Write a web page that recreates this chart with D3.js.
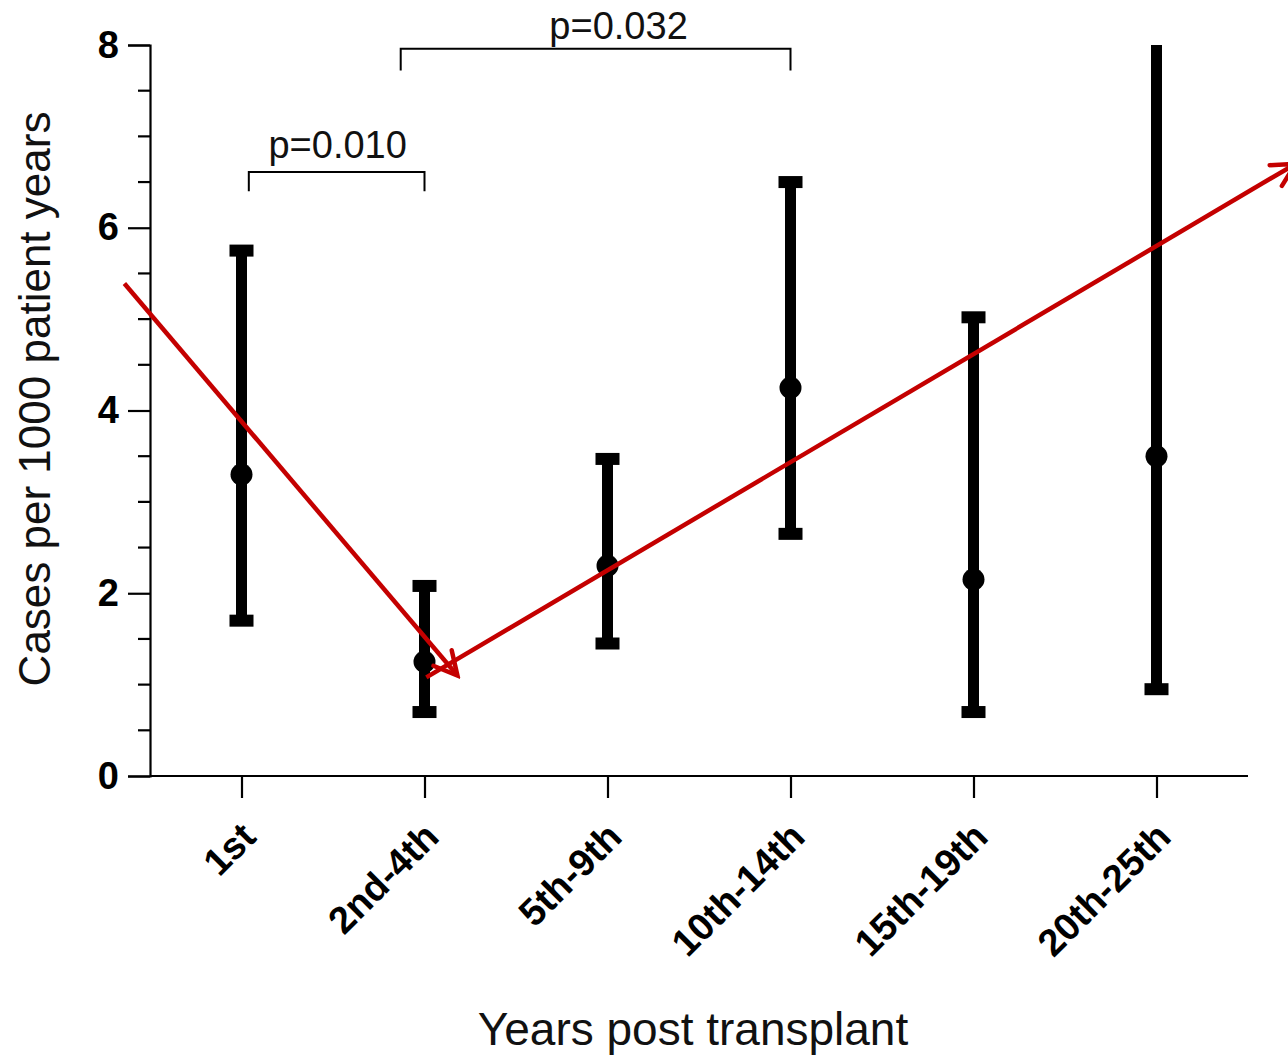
<!DOCTYPE html>
<html>
<head>
<meta charset="utf-8">
<script src="https://cdn.jsdelivr.net/npm/d3@7"></script>
<style>
  html, body { margin: 0; padding: 0; background: #fff; }
  svg { display: block; }
  text { font-family: "Liberation Sans", Arial, Helvetica, sans-serif; }
</style>
</head>
<body>
<svg id="chart" width="1288" height="1055"></svg>
<script>
// ---- data ----
const categories = ["1st", "2nd-4th", "5th-9th", "10th-14th", "15th-19th", "20th-25th"];
const means = [3.3, 1.25, 2.3, 4.25, 2.15, 3.5];
const lower = [1.7, 0.7, 1.45, 2.65, 0.7, 0.95];
const upper = [5.75, 2.08, 3.47, 6.5, 5.02, 8.0];
const upperCapped = [true, true, true, true, true, false];
const yTicks = [0, 2, 4, 6, 8];
const yMinorTicks = [0.5, 1, 1.5, 2.5, 3, 3.5, 4.5, 5, 5.5, 6.5, 7, 7.5];
// trend arrows (x in category index units, y in data units)
const arrowStartX = [-0.64, 1.01];
const arrowStartY = [5.39, 1.08];
const arrowEndX = [1.18, 5.76];
const arrowEndY = [1.10, 6.70];
// significance brackets
const bracketLabels = ["p=0.010", "p=0.032"];
const bracketFrom = [0.04, 0.87];
const bracketTo = [1.0, 3.0];
const bracketTop = [6.61, 7.96];
const bracketBottom = [6.40, 7.72];
const labelY = [6.76, 8.07];
const labelShift = [0, 0.12]; // label centre offset, in category index units

// ---- layout ----
const svg = d3.select("#chart");
const mLeft = 150, mRight = 1248, mTop = 45, mBottom = 776;

const x = d3.scalePoint().domain(categories).range([mLeft, mRight]).padding(0.5);
const step = x.step();
const xi = d3.scaleLinear().domain([0, 1]).range([x(categories[0]), x(categories[0]) + step]);
const y = d3.scaleLinear().domain([0, 8]).range([mBottom, mTop]);

const red = "#c40000";

// ---- axes ----
const yAxis = d3.axisLeft(y).tickValues(yTicks).tickSize(22).tickPadding(9).tickFormat(d3.format("d"));
const gy = svg.append("g").attr("transform", `translate(${mLeft},0)`).call(yAxis);
gy.select(".domain").attr("stroke", "#000").attr("stroke-width", 2.2);
gy.selectAll(".tick line").attr("stroke", "#000").attr("stroke-width", 2.2);
gy.selectAll(".tick text").attr("font-size", 38).attr("font-weight", "bold").attr("fill", "#000")
  .attr("font-family", "'Liberation Sans', Arial, sans-serif");
gy.selectAll(".minor").data(yMinorTicks).enter().append("line")
  .attr("x1", -12).attr("x2", 0).attr("y1", d => y(d)).attr("y2", d => y(d))
  .attr("stroke", "#000").attr("stroke-width", 2.2);

const xAxis = d3.axisBottom(x).tickSize(22).tickSizeOuter(0);
const gx = svg.append("g").attr("transform", `translate(0,${mBottom})`).call(xAxis);
gx.select(".domain").attr("stroke", "#000").attr("stroke-width", 2.2).attr("d", `M${mLeft},0H${mRight}`);
gx.selectAll(".tick line").attr("stroke", "#000").attr("stroke-width", 2.2);
gx.selectAll(".tick text")
  .attr("font-size", 38).attr("font-weight", "bold").attr("fill", "#000")
  .attr("font-family", "'Liberation Sans', Arial, sans-serif")
  .attr("text-anchor", "end").attr("dy", null).attr("y", 0)
  .attr("transform", "translate(16,63) rotate(-45)");

// ---- axis titles ----
svg.append("text").attr("x", 693).attr("y", 1045)
  .attr("text-anchor", "middle").attr("font-size", 46).attr("fill", "#111")
  .text("Years post transplant");
svg.append("text").attr("transform", `translate(50,399) rotate(-90)`)
  .attr("text-anchor", "middle").attr("font-size", 44).attr("fill", "#111")
  .text("Cases per 1000 patient years");

// ---- error bars ----
const capW = 24, capH = 12, barW = 11, dotR = 11;
const g = svg.append("g");
categories.forEach((c, i) => {
  const cx = x(c);
  g.append("rect").attr("x", cx - barW / 2).attr("width", barW)
    .attr("y", y(upper[i])).attr("height", y(lower[i]) - y(upper[i])).attr("fill", "#000");
  if (upperCapped[i]) {
    g.append("rect").attr("x", cx - capW / 2).attr("width", capW)
      .attr("y", y(upper[i]) - capH / 2).attr("height", capH).attr("fill", "#000");
  }
  g.append("rect").attr("x", cx - capW / 2).attr("width", capW)
    .attr("y", y(lower[i]) - capH / 2).attr("height", capH).attr("fill", "#000");
  g.append("circle").attr("cx", cx).attr("cy", y(means[i])).attr("r", dotR).attr("fill", "#000");
});

// ---- brackets ----
bracketLabels.forEach((lab, i) => {
  const x1 = xi(bracketFrom[i]), x2 = xi(bracketTo[i]);
  svg.append("path")
    .attr("d", `M${x1},${y(bracketBottom[i])}V${y(bracketTop[i])}H${x2}V${y(bracketBottom[i])}`)
    .attr("fill", "none").attr("stroke", "#000").attr("stroke-width", 2);
  svg.append("text")
    .attr("x", xi((bracketFrom[i] + bracketTo[i]) / 2 + labelShift[i]) + 1)
    .attr("y", y(labelY[i]))
    .attr("text-anchor", "middle").attr("font-size", 38).attr("fill", "#111").text(lab);
});

// ---- arrows ----
const defs = svg.append("defs");
defs.append("marker").attr("id", "head").attr("markerUnits", "userSpaceOnUse")
  .attr("viewBox", "-30 -16 34 32").attr("markerWidth", 34).attr("markerHeight", 32)
  .attr("refX", 0).attr("refY", 0).attr("orient", "auto")
  .append("path").attr("d", "M-23,-12L0,0L-23,12")
  .attr("fill", "none").attr("stroke", red).attr("stroke-width", 4.5)
  .attr("stroke-linejoin", "miter").attr("stroke-linecap", "round");
arrowStartX.forEach((sx, i) => {
  svg.append("line")
    .attr("x1", xi(sx)).attr("y1", y(arrowStartY[i]))
    .attr("x2", xi(arrowEndX[i])).attr("y2", y(arrowEndY[i]))
    .attr("stroke", red).attr("stroke-width", 4.5)
    .attr("marker-end", "url(#head)");
});
</script>
</body>
</html>
